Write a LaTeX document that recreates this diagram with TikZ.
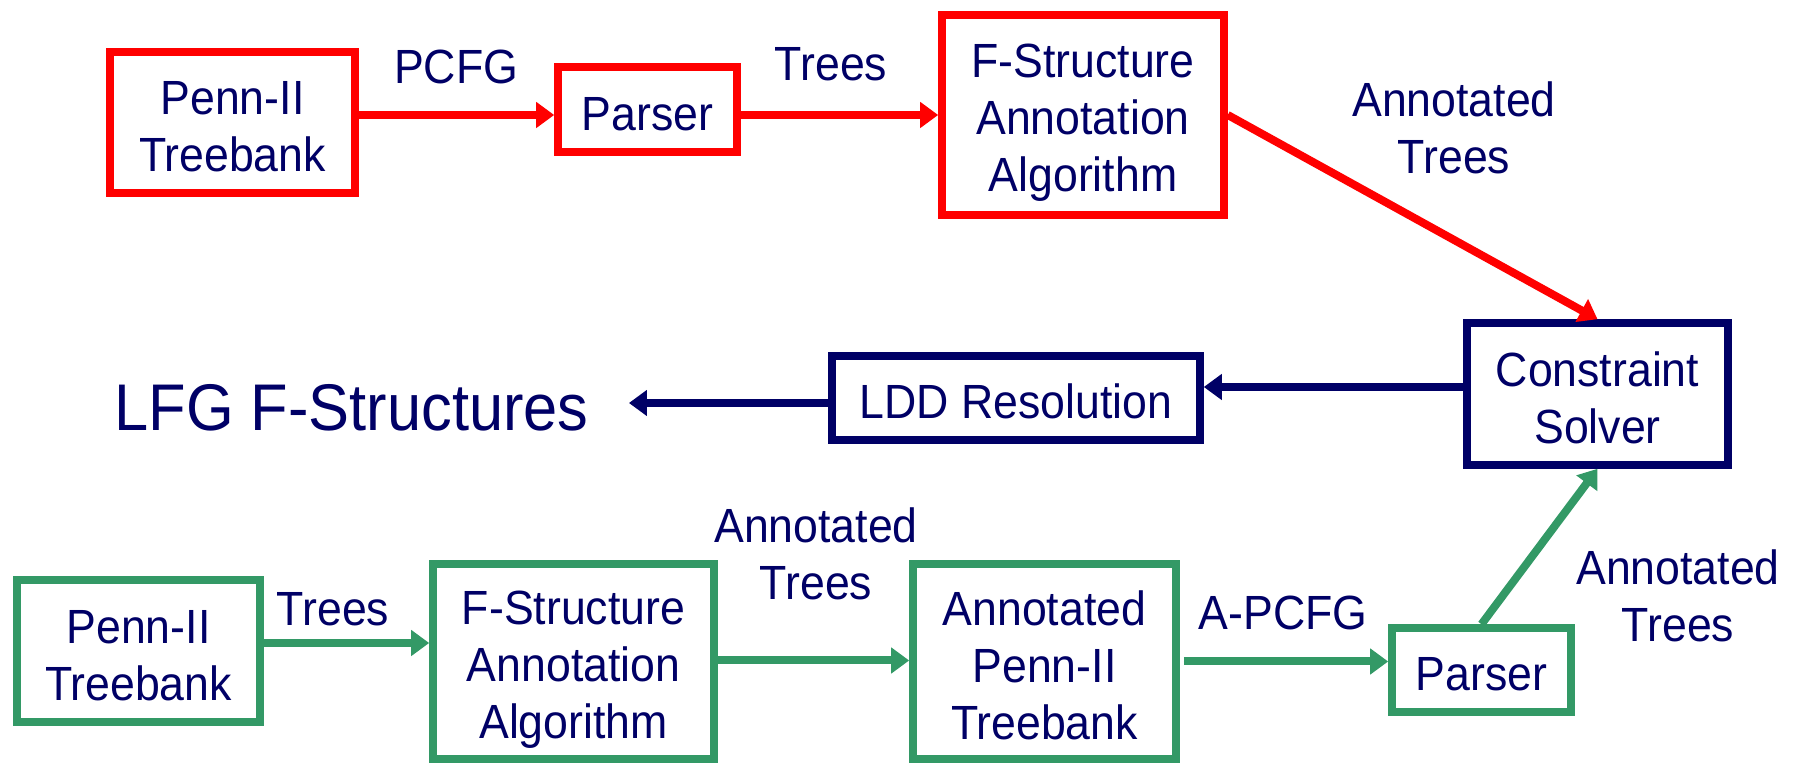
\documentclass[tikz,border=0pt]{standalone}
\usepackage{fontspec}
\setmainfont{Liberation Sans}[FakeStretch=0.93]
\usetikzlibrary{arrows.meta}
\definecolor{navy}{RGB}{0,0,102}
\definecolor{pred}{RGB}{255,0,0}
\definecolor{pgreen}{RGB}{51,153,102}
\newcommand{\ls}{\rule[-3.75pt]{0pt}{28.5pt}}
\tikzset{
  lbl/.style={font=\fontsize{24}{28.5}\selectfont, text=navy, align=center, inner sep=0pt},
  box/.style={lbl, draw, line width=3.8pt, inner sep=0pt},
  redbox/.style={box, draw=pred},
  greenbox/.style={box, draw=pgreen},
  navybox/.style={box, draw=navy},
  conn/.style={line width=4pt, -{Triangle[length=9pt,width=12.5pt]}},
  redconn/.style={conn, draw=pred, fill=pred},
  greenconn/.style={conn, draw=pgreen, fill=pgreen},
  navyconn/.style={conn, draw=navy, fill=navy},
}
\begin{document}
\begin{tikzpicture}[x=0.5pt,y=-0.5pt]
\useasboundingbox (0,0) rectangle (1800,763);
% top row
\node[redbox, minimum width=122.5pt, minimum height=70.5pt] (ptb1) at (232.5,122.5) {\ls Penn-II\\\ls Treebank};
\node[redbox, minimum width=89.5pt, minimum height=42.5pt] (parser1) at (647.5,109.5) {\ls Parser};
\node[redbox, minimum width=141pt, minimum height=100pt] (fs1) at (1083,115) {\ls F-Structure\\\ls Annotation\\\ls Algorithm};
% middle
\node[navybox, minimum width=130.5pt, minimum height=71pt] (cs) at (1597.5,394) {\ls Constraint\\\ls Solver};
\node[navybox, minimum width=184pt, minimum height=42pt] (ldd) at (1016,398) {\ls LDD Resolution};
\node[lbl, font=\fontsize{33}{38}\selectfont, anchor=base, inner xsep=20pt] (lfg) at (351.5,431) {LFG F-Structures};
% bottom row
\node[greenbox, minimum width=121.5pt, minimum height=71pt] (ptb2) at (138.5,651) {\ls Penn-II\\\ls Treebank};
\node[greenbox, minimum width=140.5pt, minimum height=97.5pt] (fs2) at (573.5,661.5) {\ls F-Structure\\\ls Annotation\\\ls Algorithm};
\node[greenbox, minimum width=131.5pt, minimum height=97.5pt] (aptb) at (1044.5,661.5) {\ls Annotated\\\ls Penn-II\\\ls Treebank};
\node[greenbox, minimum width=89.5pt, minimum height=42pt] (parser2) at (1481.5,670) {\ls Parser};
% labels
\node[lbl, anchor=base] (l1) at (456,84) {PCFG};
\node[lbl, anchor=base] (l2) at (831,81) {Trees};
\node[lbl] (l3) at (1454,128) {Annotated\\Trees};
\node[lbl, anchor=base] (l4) at (333,626) {Trees};
\node[lbl] (l5) at (816,554) {Annotated\\Trees};
\node[lbl, anchor=base] (l6) at (1283,630) {A-PCFG};
\node[lbl] (l7) at (1678,596) {Annotated\\Trees};
% connectors
\draw[redconn] (ptb1.east |- fs1.west) -- (parser1.west |- fs1.west);
\draw[redconn] (parser1.east |- fs1.west) -- (fs1.west);
\draw[redconn] (fs1.east) -- (cs.north);
\draw[navyconn] ([yshift=3.5pt]cs.west) -- ([yshift=3.5pt]cs.west -| ldd.east);
\draw[navyconn] ([yshift=-2.5pt]ldd.west) -- ([yshift=-2.5pt]ldd.west -| lfg.east);
\draw[greenconn] ([yshift=4pt]ptb2.east) -- ([yshift=4pt]ptb2.east -| fs2.west);
\draw[greenconn] ([yshift=0.5pt]fs2.east) -- ([yshift=0.5pt]aptb.west);
\draw[greenconn] ([xshift=2pt]aptb.east) -- (aptb.east -| parser2.west);
\draw[greenconn] (parser2.north) -- (cs.south);
\end{tikzpicture}
\end{document}
